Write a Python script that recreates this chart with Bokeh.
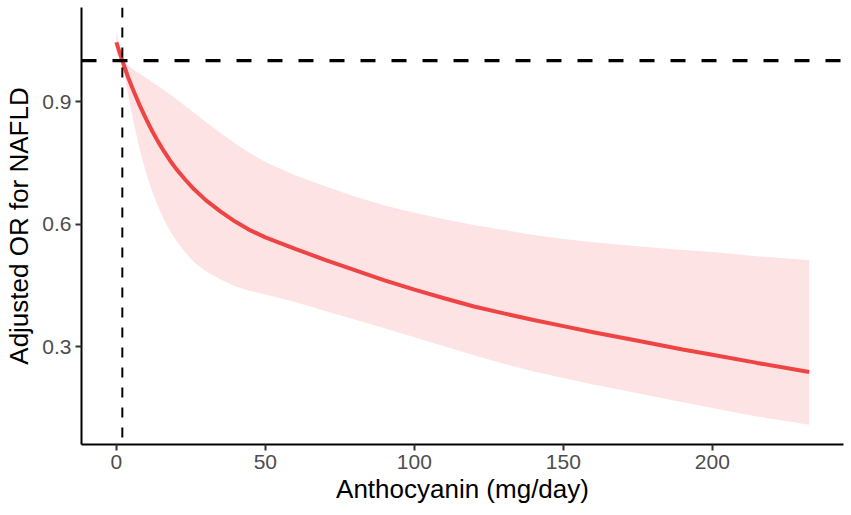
from bokeh.plotting import figure
from bokeh.models import Range1d, FixedTicker, PrintfTickFormatter, Span, ColumnDataSource
from bokeh.embed import file_html
from bokeh.resources import INLINE

# ---- data ----
anthocyanin = [0, 1, 2, 3, 4, 5, 6, 8, 10, 12, 14, 16, 18, 20, 23, 26, 30, 35, 40, 45, 50,
               55, 60, 70, 80, 90, 100, 110, 120, 130, 140, 150, 160, 175, 190, 200, 215, 232.5]
or_fit = [1.045, 1.022, 1.0, 0.979, 0.958, 0.94, 0.922, 0.888, 0.857, 0.828, 0.802, 0.778,
          0.756, 0.736, 0.71, 0.686, 0.659, 0.631, 0.606, 0.585, 0.568, 0.554, 0.54, 0.513,
          0.488, 0.463, 0.44, 0.419, 0.399, 0.382, 0.366, 0.351, 0.336, 0.315, 0.294, 0.281,
          0.261, 0.239]
or_upper = [1.075, 1.038, 1.002, 0.994, 0.988, 0.982, 0.977, 0.967, 0.958, 0.948, 0.938,
            0.928, 0.917, 0.907, 0.89, 0.873, 0.85, 0.823, 0.797, 0.773, 0.752, 0.736, 0.72,
            0.693, 0.668, 0.646, 0.628, 0.612, 0.598, 0.586, 0.574, 0.564, 0.556, 0.546,
            0.537, 0.532, 0.522, 0.512]
or_lower = [1.018, 1.008, 0.997, 0.955, 0.915, 0.877, 0.842, 0.778, 0.725, 0.68, 0.643,
            0.611, 0.584, 0.561, 0.532, 0.508, 0.485, 0.465, 0.448, 0.437, 0.428, 0.419,
            0.41, 0.388, 0.367, 0.346, 0.324, 0.302, 0.28, 0.259, 0.24, 0.224, 0.208, 0.187,
            0.165, 0.151, 0.13, 0.11]
ref_or = 1.0
ref_dose = 2.0
x_ticks = [0, 50, 100, 150, 200]
y_ticks = [0.3, 0.6, 0.9]

src = ColumnDataSource(dict(x=anthocyanin, y=or_fit, lo=or_lower, hi=or_upper))

FONT = "Liberation Sans"

p = figure(width=851, height=515, output_backend="svg", toolbar_location=None,
           x_range=Range1d(-11.7, 244), y_range=Range1d(0.0615, 1.13),
           min_border_left=81, min_border_right=8, min_border_top=7, min_border_bottom=71)

p.background_fill_color = "white"
p.border_fill_color = "white"
p.outline_line_color = None
p.xgrid.visible = False
p.ygrid.visible = False

p.varea(x="x", y1="lo", y2="hi", source=src, fill_color="#FDE3E4", fill_alpha=1.0)
p.line(x="x", y="y", source=src, line_color="#EF4444", line_width=4)

p.add_layout(Span(location=ref_or, dimension="width", line_color="black",
                  line_width=3.2, line_dash="15 16"))
p.add_layout(Span(location=ref_dose, dimension="height", line_color="black",
                  line_width=2, line_dash="10 10"))

p.xaxis.ticker = FixedTicker(ticks=x_ticks)
p.yaxis.ticker = FixedTicker(ticks=y_ticks)
p.yaxis.formatter = PrintfTickFormatter(format="%.1f")

p.xaxis.axis_label = "Anthocyanin (mg/day)"
p.yaxis.axis_label = "Adjusted OR for NAFLD"

for ax in (p.xaxis, p.yaxis):
    ax.axis_line_color = "black"
    ax.axis_line_width = 2
    ax.major_tick_line_color = "#333333"
    ax.major_tick_line_width = 2
    ax.major_tick_out = 6
    ax.major_tick_in = 0
    ax.minor_tick_line_color = None
    ax.major_label_text_font = FONT
    ax.major_label_text_font_size = "21px"
    ax.major_label_text_color = "#4D4D4D"
    ax.axis_label_text_font = FONT
    ax.axis_label_text_font_size = "26px"
    ax.axis_label_text_font_style = "normal"
    ax.axis_label_text_color = "black"

p.xaxis.major_label_standoff = 4
p.xaxis.axis_label_standoff = 2
p.yaxis.major_label_standoff = 4
p.yaxis.axis_label_standoff = 5

open("out.html", "w").write(file_html(p, INLINE))
